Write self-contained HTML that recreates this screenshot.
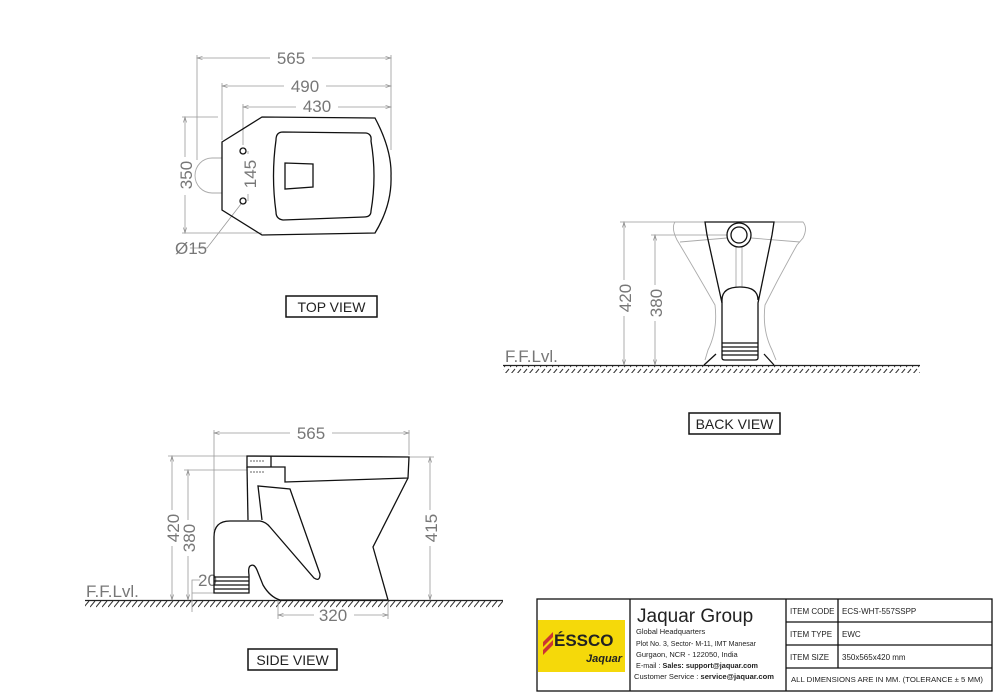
<!DOCTYPE html>
<html><head><meta charset="utf-8"><style>
html,body{margin:0;padding:0;background:#fff}
svg{display:block}
.d{fill:none;stroke:#999;stroke-width:0.8}
.b{fill:none;stroke:#111;stroke-width:1.3}
.l{fill:none;stroke:#aaa;stroke-width:0.9}
.t{font-family:"Liberation Sans",sans-serif;fill:#777;font-size:17px}
.k{font-family:"Liberation Sans",sans-serif;fill:#222}
</style></head><body>
<svg width="1000" height="692" viewBox="0 0 1000 692" xmlns="http://www.w3.org/2000/svg">
<defs>
<pattern id="h" width="6" height="8" patternUnits="userSpaceOnUse"><line x1="0" y1="7" x2="5" y2="1" stroke="#333" stroke-width="1"/></pattern>
<marker id="a" markerWidth="8" markerHeight="6" refX="7" refY="3" orient="auto-start-reverse"><path d="M0,1 L7,3 L0,5" fill="none" stroke="#888" stroke-width="0.8"/></marker>
</defs>
<!-- TOP VIEW -->
<g class="d">
<line x1="197" y1="58" x2="391" y2="58" marker-start="url(#a)" marker-end="url(#a)"/>
<line x1="222" y1="86" x2="391" y2="86" marker-start="url(#a)" marker-end="url(#a)"/>
<line x1="243" y1="107" x2="391" y2="107" marker-start="url(#a)" marker-end="url(#a)"/>
<line x1="197" y1="55" x2="197" y2="160"/><line x1="222" y1="83" x2="222" y2="140"/><line x1="243" y1="104" x2="243" y2="145"/><line x1="391" y1="55" x2="391" y2="150"/>
<line x1="185" y1="117" x2="185" y2="233" marker-start="url(#a)" marker-end="url(#a)"/>
<line x1="182" y1="117" x2="218" y2="117"/><line x1="182" y1="233" x2="262" y2="233"/>
<line x1="248" y1="151" x2="248" y2="201"/>
<path d="M241 204 L207 248 L190 248"/>
</g>
<rect x="270" y="55" width="42" height="8" fill="#fff"/><text class="t" x="291" y="64" text-anchor="middle">565</text>
<rect x="284" y="80" width="42" height="10" fill="#fff"/><text class="t" x="305" y="92" text-anchor="middle">490</text>
<rect x="296" y="100" width="42" height="10" fill="#fff"/><text class="t" x="317" y="112" text-anchor="middle">430</text>
<rect x="178" y="157" width="14" height="38" fill="#fff"/><text class="t" x="192" y="175" transform="rotate(-90 192 175)" text-anchor="middle">350</text>
<rect x="244" y="154" width="8" height="40" fill="#fff"/><text class="t" x="256" y="174" transform="rotate(-90 256 174)" text-anchor="middle">145</text>
<text class="t" x="175" y="254">Ø15</text>
<path class="l" d="M222 158 L212 158 A17 17.5 0 0 0 212 193 L222 193"/>
<path class="b" d="M222 142 L262 117 L375 118 Q392 150 391 176 Q392 205 375 233 L262 235 L222 210 Z"/>
<path class="b" d="M283 132 L366 133 Q372 134 371 141 Q377 176 371 211 Q371 217 364 217 L283 220 Q276 219 276 212 Q271 176 276 140 Q276 132 283 132 Z"/>
<path class="b" d="M285 163 L313 164 L313 187 L285 189 Z"/>
<circle class="b" cx="243" cy="151" r="3"/><circle class="b" cx="243" cy="201" r="3"/>
<rect x="286" y="296" width="91" height="21" fill="none" stroke="#111" stroke-width="1.5"/>
<text class="k" x="331.5" y="312" font-size="14" text-anchor="middle">TOP VIEW</text>
<!-- BACK VIEW -->
<rect x="503" y="366" width="417" height="7" fill="url(#h)"/>
<line x1="503" y1="365.5" x2="920" y2="365.5" stroke="#222" stroke-width="1.2"/>
<text class="t" x="505" y="362" font-size="11">F.F.Lvl.</text>
<g class="d">
<line x1="624" y1="222" x2="624" y2="365" marker-start="url(#a)" marker-end="url(#a)"/>
<line x1="655" y1="235" x2="655" y2="365" marker-start="url(#a)" marker-end="url(#a)"/>
<line x1="620" y1="222" x2="700" y2="222"/><line x1="651" y1="235" x2="727" y2="235"/>
</g>
<rect x="617" y="280" width="14" height="36" fill="#fff"/><text class="t" x="631" y="298" transform="rotate(-90 631 298)" text-anchor="middle">420</text>
<rect x="648" y="285" width="14" height="36" fill="#fff"/><text class="t" x="662" y="303" transform="rotate(-90 662 303)" text-anchor="middle">380</text>
<path class="l" d="M675 222 L803 222 Q808 228 803 238 L797 245 Q780 275 765 305 Q762 330 772 350 L776 360 M675 222 Q671 228 677 240 Q695 270 715 305 Q718 330 708 350 L705 360"/>
<path class="l" d="M680 242 L727 238 M751 238 L800 242 M736 247 L736 287 M742 247 L742 287"/>
<path class="b" d="M705 222 L774 222 L772 235 L758 303 L758 358 Q758 360 755 360 L725 360 Q722 360 722 358 L722 303 L707 235 Z"/>
<path class="b" d="M722 303 L722 300 Q722 287 740 287 Q758 287 758 300"/>
<circle class="b" cx="739" cy="235" r="12"/><circle class="b" cx="739" cy="235" r="8"/>
<path class="b" d="M722 343 H758 M722 347 H758 M722 351 H758 M722 355 H758"/>
<path class="b" d="M704 365 L716 354 M774 365 L764 354"/>
<rect x="689" y="413" width="91" height="21" fill="none" stroke="#111" stroke-width="1.5"/>
<text class="k" x="734.5" y="429" font-size="14" text-anchor="middle">BACK VIEW</text>
<!-- SIDE VIEW -->
<rect x="85" y="601" width="418" height="7" fill="url(#h)"/>
<line x1="85" y1="600.5" x2="503" y2="600.5" stroke="#222" stroke-width="1.2"/>
<text class="t" x="86" y="597" font-size="11">F.F.Lvl.</text>
<g class="d">
<line x1="214" y1="433" x2="409" y2="433" marker-start="url(#a)" marker-end="url(#a)"/>
<line x1="214" y1="430" x2="214" y2="575"/><line x1="409" y1="430" x2="409" y2="455"/>
<line x1="172" y1="456" x2="172" y2="600" marker-start="url(#a)" marker-end="url(#a)"/>
<line x1="188" y1="470" x2="188" y2="600" marker-start="url(#a)" marker-end="url(#a)"/>
<line x1="430" y1="457" x2="430" y2="600" marker-start="url(#a)" marker-end="url(#a)"/>
<line x1="168" y1="456" x2="247" y2="456"/><line x1="184" y1="470" x2="247" y2="470"/><line x1="409" y1="457" x2="434" y2="457"/>
<line x1="278" y1="615" x2="388" y2="615" marker-start="url(#a)" marker-end="url(#a)"/>
<line x1="278" y1="600" x2="278" y2="619"/><line x1="388" y1="600" x2="388" y2="619"/>
<path d="M192 612 L192 580 L200 580 M192 593 L214 593"/>
</g>
<rect x="290" y="428" width="42" height="10" fill="#fff"/><text class="t" x="311" y="439" text-anchor="middle">565</text>
<rect x="165" y="510" width="14" height="36" fill="#fff"/><text class="t" x="179" y="528" transform="rotate(-90 179 528)" text-anchor="middle">420</text>
<rect x="181" y="520" width="14" height="36" fill="#fff"/><text class="t" x="195" y="538" transform="rotate(-90 195 538)" text-anchor="middle">380</text>
<rect x="423" y="510" width="14" height="36" fill="#fff"/><text class="t" x="437" y="528" transform="rotate(-90 437 528)" text-anchor="middle">415</text>
<rect x="314" y="608" width="40" height="12" fill="#fff"/><text class="t" x="333" y="621" text-anchor="middle">320</text>
<text class="t" x="198" y="586">20</text>
<path class="b" d="M247 456 L409 457 L408 478 L285 482 L285 467 L247 467 Z M271 456 L271 467"/>
<path class="b" d="M247 467 L248 520"/>
<path class="b" d="M408 478 L373 547 L388 600 L280 600 Q270 597 263 585 L257 570 Q254 563 250 566 Q248 568 249 575 L249 593 L214 593 L214 537 Q214 521 230 521 L260 521 Q266 522 270 527 L314 578 Q320 582 320 574 L290 489 L258 486 L262 520"/>
<path class="b" d="M214 577 H249 M214 581 H249 M214 585 H249 M214 589 H249"/>
<path d="M250 461 H264 M250 472 H264" stroke="#333" stroke-dasharray="2 1" stroke-width="0.8"/>
<rect x="248" y="649" width="89" height="21" fill="none" stroke="#111" stroke-width="1.5"/>
<text class="k" x="292.5" y="665" font-size="14" text-anchor="middle">SIDE VIEW</text>
<!-- TITLE BLOCK -->
<g stroke="#111" stroke-width="1.3" fill="none">
<rect x="537" y="599" width="455" height="92"/>
<line x1="630" y1="599" x2="630" y2="691"/><line x1="786" y1="599" x2="786" y2="691"/>
<line x1="838" y1="599" x2="838" y2="668"/>
<line x1="786" y1="622" x2="992" y2="622"/><line x1="786" y1="645" x2="992" y2="645"/><line x1="786" y1="668" x2="992" y2="668"/>
</g>
<rect x="538" y="620" width="87" height="52" fill="#f5d90a"/>
<path d="M543 642 L553 632 L553 637 L543 647 Z M543 650 L553 640 L553 645 L543 655 Z" fill="#c33"/>
<text x="554" y="646" font-family="Liberation Sans,sans-serif" font-weight="bold" font-size="17" fill="#222">ÉSSCO</text>
<text x="586" y="662" font-family="Liberation Sans,sans-serif" font-style="italic" font-weight="bold" font-size="11" fill="#222">Jaquar</text>
<text class="k" x="637" y="622" font-size="19">Jaquar Group</text>
<g class="k" font-size="7.5">
<text x="636" y="634">Global Headquarters</text>
<text x="636" y="646" textLength="120" lengthAdjust="spacingAndGlyphs">Plot No. 3, Sector- M-11, IMT Manesar</text>
<text x="636" y="657">Gurgaon, NCR - 122050, India</text>
<text x="636" y="668" textLength="122" lengthAdjust="spacingAndGlyphs">E-mail : <tspan font-weight="bold">Sales: support@jaquar.com</tspan></text>
<text x="634" y="679" textLength="140" lengthAdjust="spacingAndGlyphs">Customer Service : <tspan font-weight="bold">service@jaquar.com</tspan></text>
<text x="790" y="614" font-size="8">ITEM  CODE</text><text x="842" y="614" font-size="8">ECS-WHT-557SSPP</text>
<text x="790" y="637" font-size="8">ITEM  TYPE</text><text x="842" y="637" font-size="8">EWC</text>
<text x="790" y="660" font-size="8">ITEM  SIZE</text><text x="842" y="660" font-size="8">350x565x420  mm</text>
<text x="791" y="682" textLength="192" lengthAdjust="spacingAndGlyphs">ALL DIMENSIONS ARE IN MM. (TOLERANCE ± 5 MM)</text>
</g>
</svg>
</body></html>
